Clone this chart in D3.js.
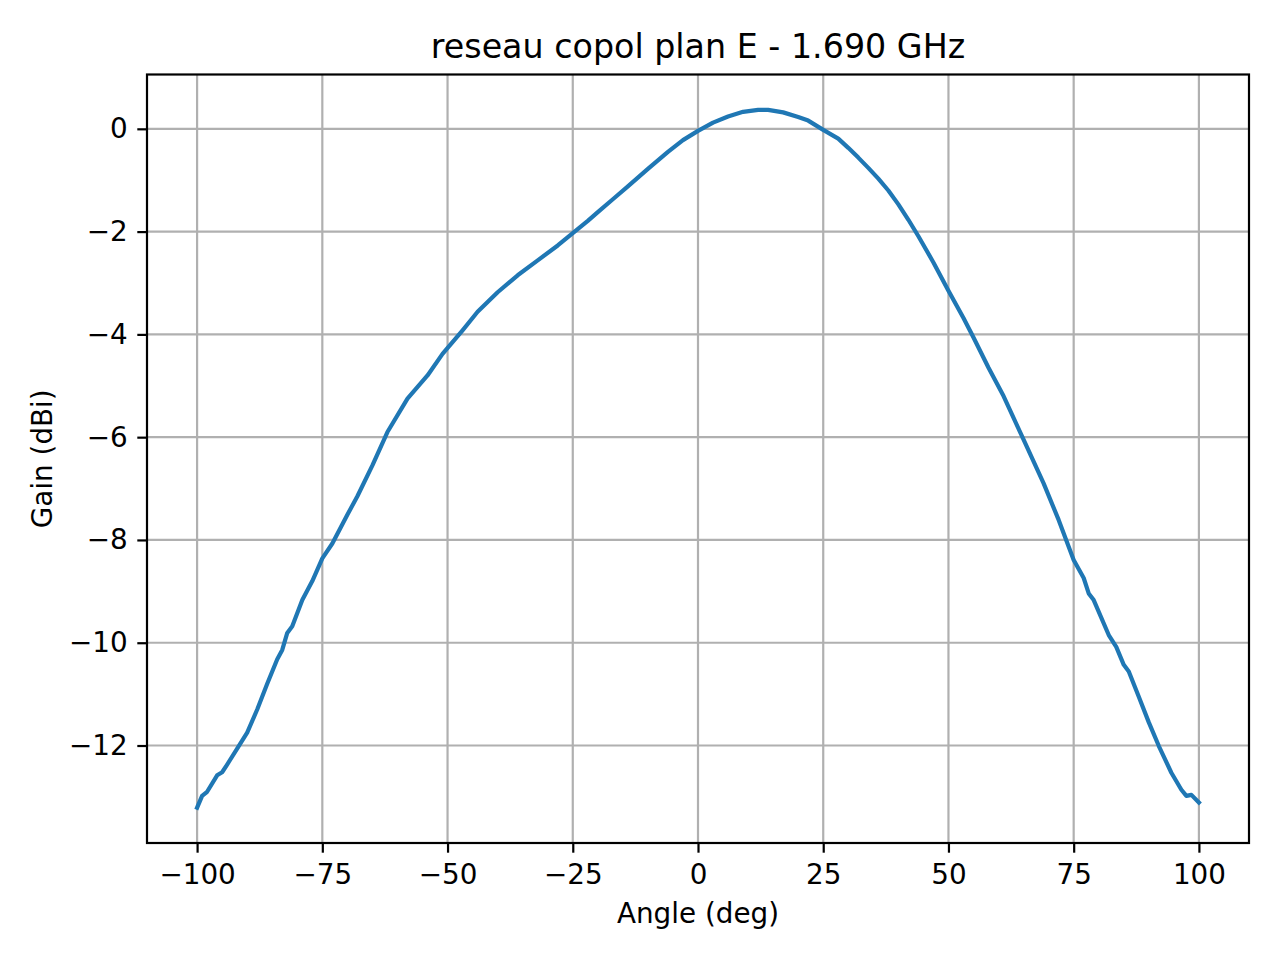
<!DOCTYPE html>
<html>
<head>
<meta charset="utf-8">
<script src="https://cdn.jsdelivr.net/npm/d3@7"></script>
<style>
  body { margin: 0; background: #fff; }
  text { font-family: "DejaVu Sans", sans-serif; fill: #000; }
</style>
</head>
<body>
<div id="chart"></div>
<script>
var width = 1280, height = 960;
var margin = {top: 74.5, right: 31, bottom: 117, left: 147};

// angles (deg)
var angles = [-100, -99, -98, -96, -95, -94, -92, -90, -88, -86, -84, -83, -82, -81, -79, -77, -75, -73,
  -70, -68, -65, -62, -58, -54, -51, -47, -44, -40, -36, -32, -28, -25, -22, -20, -17, -14, -10,
  -6, -3, 0, 3, 6, 9, 12, 14, 17, 20, 22, 25, 28, 30, 32, 34, 36, 38, 40, 42, 44, 47, 50, 53, 55,
  58, 61, 65, 69, 72, 75, 77, 78, 79, 82, 83.5, 85, 86, 88, 90, 92, 94.5, 96.5, 97.5, 98.5, 100];
// gain (dBi)
var gains = [-13.21, -12.98, -12.90, -12.58, -12.52, -12.37, -12.06, -11.75, -11.30, -10.80, -10.32, -10.14, -9.81, -9.68, -9.17, -8.80, -8.36, -8.07,
  -7.51, -7.15, -6.55, -5.90, -5.25, -4.80, -4.38, -3.92, -3.56, -3.18, -2.85, -2.56, -2.27, -2.03, -1.79, -1.62, -1.37, -1.12, -0.78,
  -0.45, -0.22, -0.04, 0.12, 0.24, 0.33, 0.37, 0.37, 0.32, 0.23, 0.16, -0.02, -0.19, -0.37, -0.56, -0.76, -0.97, -1.20, -1.47, -1.77, -2.09, -2.60, -3.15, -3.68, -4.06,
  -4.65, -5.20, -6.05, -6.90, -7.61, -8.39, -8.74, -9.04, -9.17, -9.85, -10.08, -10.43, -10.56, -11.05, -11.55, -12.01, -12.53, -12.86, -12.98, -12.96, -13.11];

var xTicks = [-100, -75, -50, -25, 0, 25, 50, 75, 100];
var yTicks = [0, -2, -4, -6, -8, -10, -12];

var titleText = "reseau copol plan E - 1.690 GHz";
var xLabel = "Angle (deg)";
var yLabel = "Gain (dBi)";

var data = angles.map(function(a, i) { return {a: a, g: gains[i]}; });

var svg = d3.select("#chart").append("svg")
  .attr("width", width)
  .attr("height", height);

var plotW = width - margin.left - margin.right;
var plotH = height - margin.top - margin.bottom;

var x = d3.scaleLinear().domain([-110, 110]).range([0, plotW]);
var y = d3.scaleLinear().domain([-13.897, 1.057]).range([plotH, 0]);

var g = svg.append("g").attr("transform", "translate(" + margin.left + "," + margin.top + ")");

function fmt(d) { return d < 0 ? "\u2212" + Math.abs(d) : String(d); }

// grid
g.append("g").selectAll("line").data(xTicks).enter().append("line")
  .attr("x1", function(d) { return x(d); }).attr("x2", function(d) { return x(d); })
  .attr("y1", 0).attr("y2", plotH)
  .attr("stroke", "#b0b0b0").attr("stroke-width", 2.2);
g.append("g").selectAll("line").data(yTicks).enter().append("line")
  .attr("y1", function(d) { return y(d); }).attr("y2", function(d) { return y(d); })
  .attr("x1", 0).attr("x2", plotW)
  .attr("stroke", "#b0b0b0").attr("stroke-width", 2.2);

// curve
var line = d3.line().x(function(d) { return x(d.a); }).y(function(d) { return y(d.g); });
g.append("path").datum(data)
  .attr("d", line)
  .attr("fill", "none")
  .attr("stroke", "#1f77b4")
  .attr("stroke-width", 4.2)
  .attr("stroke-linejoin", "round")
  .attr("stroke-linecap", "square");

// axes
var xAxis = d3.axisBottom(x).tickValues(xTicks).tickFormat(fmt).tickSize(9.7).tickPadding(12);
var yAxis = d3.axisLeft(y).tickValues(yTicks).tickFormat(fmt).tickSize(9.7).tickPadding(9.7);

var gx = g.append("g").attr("transform", "translate(0," + plotH + ")").call(xAxis);
var gy = g.append("g").call(yAxis);
[gx, gy].forEach(function(ax) {
  ax.select(".domain").remove();
  ax.selectAll(".tick line").attr("stroke", "#000").attr("stroke-width", 2.2);
  ax.selectAll(".tick text").attr("font-size", 27.8).attr("font-family", "DejaVu Sans").attr("fill", "#000");
});

// frame
g.append("rect")
  .attr("x", 0).attr("y", 0)
  .attr("width", plotW).attr("height", plotH)
  .attr("fill", "none").attr("stroke", "#000").attr("stroke-width", 2.2);

// title and labels
svg.append("text")
  .text(titleText)
  .attr("x", margin.left + plotW / 2)
  .attr("y", 57.5)
  .attr("text-anchor", "middle")
  .attr("font-size", 33.3);

svg.append("text")
  .text(xLabel)
  .attr("x", margin.left + plotW / 2)
  .attr("y", 922.5)
  .attr("text-anchor", "middle")
  .attr("font-size", 27.8);

svg.append("text")
  .text(yLabel)
  .attr("transform", "translate(51.5," + (margin.top + plotH / 2) + ") rotate(-90)")
  .attr("text-anchor", "middle")
  .attr("font-size", 27.8);
</script>
</body>
</html>
